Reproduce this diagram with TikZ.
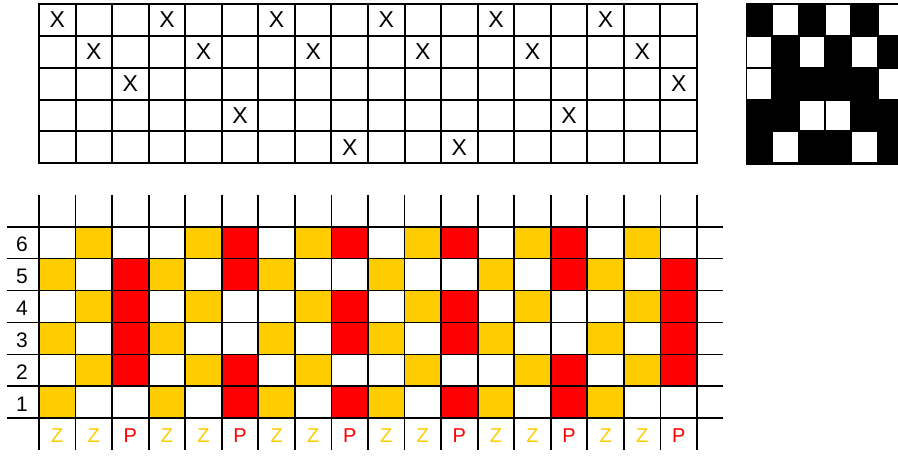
\documentclass[tikz,border=0pt]{standalone}
\usepackage{fontspec}
\setmainfont{Liberation Sans}
\definecolor{goldc}{HTML}{FFCC00}
\definecolor{redc}{HTML}{FF0000}
\begin{document}
\begin{tikzpicture}[x=1pt,y=-1pt,
  topline/.style={line width=2pt,black},
  botline/.style={line width=1.7pt,black},
  xmark/.style={inner sep=0pt,font=\fontsize{23}{23}\selectfont},
  rowlab/.style={inner sep=0pt,font=\fontsize{21}{21}\selectfont},
  zlab/.style={inner sep=0pt,font=\fontsize{20}{20}\selectfont,text=goldc},
  plab/.style={inner sep=0pt,font=\fontsize{20}{20}\selectfont,text=redc},
  ycell/.style={fill=goldc},
  rcell/.style={fill=redc},
  wcell/.style={fill=white}]
\useasboundingbox (0,0) rectangle (898,457);
\def\cw{36.556}
\def\rh{31.86}
\def\rb{31.93}
% ---------- top grid ----------
\foreach \k in {0,...,18}
  \draw[topline] ({39+\k*\cw},4) -- ({39+\k*\cw},163.3);
\foreach \k in {0,...,5}
  \draw[topline] (38,{4+\k*\rh}) -- (698,{4+\k*\rh});
\foreach \r/\cols in {1/{1,4,7,10,13,16},2/{2,5,8,11,14,17},3/{3,18},4/{6,15},5/{9,12}}
  \foreach \c in \cols
    \node[xmark] (x-\r-\c) at ({39+(\c-0.5)*\cw},{4+(\r-0.5)*\rh}) {X};
% ---------- black/white pattern ----------
\def\pw{26.26}
\fill[black] (746,3.3) rectangle (898,165);
\foreach \r/\cols in {1/{2,4,6},2/{1,3,5},3/{1,6},4/{3,4},5/{2,5}}
  \foreach \c in \cols
    \fill[wcell] ({746+(\c-1)*\pw+1.2},{4+(\r-1)*\rh+1}) rectangle ({min(898,746+\c*\pw-0.8)},{4+\r*\rh-1});
% ---------- bottom grid ----------
\foreach \i/\ycols/\rcols in {1/{2,5,8,11,14,17}/{6,9,12,15},
                              2/{1,4,7,10,13,16}/{3,6,15,18},
                              3/{2,5,8,11,14,17}/{3,9,12,18},
                              4/{1,4,7,10,13,16}/{3,9,12,18},
                              5/{2,5,8,11,14,17}/{3,6,15,18},
                              6/{1,4,7,10,13,16}/{6,9,12,15}}{
  \foreach \c in \ycols
    \fill[ycell] ({39+(\c-1)*\cw},{226.7+(\i-1)*\rb}) rectangle ({39+\c*\cw},{226.7+\i*\rb});
  \foreach \c in \rcols
    \fill[rcell] ({39+(\c-1)*\cw},{226.7+(\i-1)*\rb}) rectangle ({39+\c*\cw},{226.7+\i*\rb});
}
\foreach \k in {0,...,18}
  \draw[botline] ({39+\k*\cw},195) -- ({39+\k*\cw},449.7);
\foreach \k in {0,...,6}
  \draw[botline] (7,{226.7+\k*\rb}) -- (722.7,{226.7+\k*\rb});
\foreach \n [count=\i] in {6,5,4,3,2,1}
  \node[rowlab] (row-\n) at (22,{226.7+(\i-0.5)*\rb+2}) {\n};
\foreach \g in {0,...,5}{
  \node[zlab] (lab-\g-a) at ({39+(3*\g+0.5)*\cw},436) {Z};
  \node[zlab] (lab-\g-b) at ({39+(3*\g+1.5)*\cw},436) {Z};
  \node[plab] (lab-\g-c) at ({39+(3*\g+2.5)*\cw},436) {P};
}
\end{tikzpicture}
\end{document}
